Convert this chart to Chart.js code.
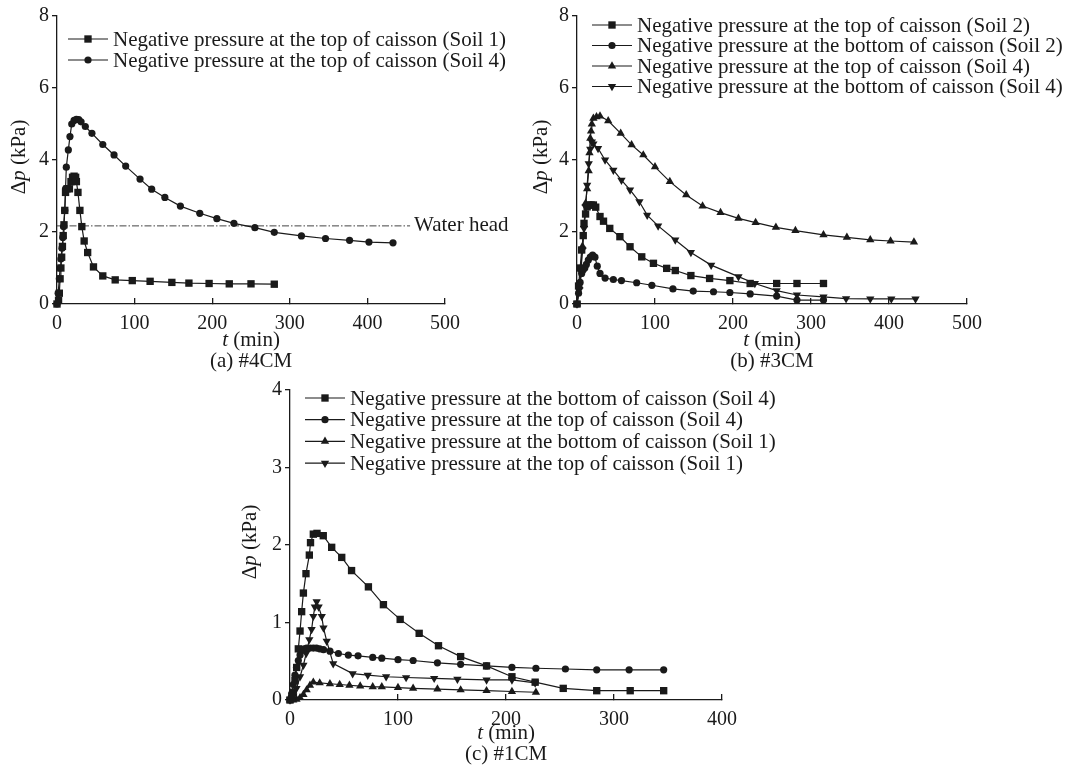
<!DOCTYPE html>
<html>
<head>
<meta charset="utf-8">
<script src="https://cdn.jsdelivr.net/npm/chart.js@4/dist/chart.umd.min.js"></script>
<style>
  body { margin: 0; background: #fff; }
  .box { position: absolute; }
</style>
</head>
<body>
<div class="box" style="left:0px;top:0px"><canvas id="chartA" width="530" height="375"></canvas></div>
<div class="box" style="left:530px;top:0px"><canvas id="chartB" width="539" height="375"></canvas></div>
<div class="box" style="left:230px;top:375px"><canvas id="chartC" width="560" height="396"></canvas></div>
<script>
//(a) #4CM
let tA1 = [0, 2, 3, 4, 5, 6, 7, 8, 9, 10, 11, 13, 16, 18, 20, 22, 24, 25, 27, 29.5, 32, 35, 39.5, 47, 59, 75, 97, 120, 148, 170, 196, 222, 250, 280]
let pA1 = [0, 0.1, 0.3, 0.7, 1.0, 1.3, 1.6, 1.9, 2.2, 2.6, 3.1, 3.2, 3.2, 3.4, 3.52, 3.55, 3.52, 3.4, 3.1, 2.6, 2.15, 1.75, 1.43, 1.03, 0.78, 0.67, 0.65, 0.63, 0.6, 0.58, 0.57, 0.56, 0.56, 0.55]
let tA4 = [0, 1.5, 3, 4, 5, 6.5, 7.5, 8.5, 10, 11, 12, 14.6, 16.7, 19, 22, 25, 28, 31, 36.5, 45, 59, 73.5, 88.5, 107, 122, 139, 159, 184, 206, 228, 255, 280, 315, 346, 377, 402, 433]
let pA4 = [0, 0.3, 0.7, 1.0, 1.25, 1.55, 1.85, 2.15, 2.6, 3.2, 3.8, 4.28, 4.65, 5.0, 5.1, 5.13, 5.12, 5.06, 4.93, 4.74, 4.43, 4.14, 3.83, 3.47, 3.19, 2.96, 2.72, 2.52, 2.37, 2.24, 2.12, 1.99, 1.89, 1.82, 1.77, 1.72, 1.70]
let waterHeadT = [0, 455]
let waterHead = 2.17

//(b) #3CM
let tB2top = [0, 2, 4, 6, 8, 9, 11, 13, 15, 18, 21, 24, 29.5, 34, 42, 55, 68, 83, 98, 115, 126, 146, 170, 196, 222, 256, 282, 316]
let pB2top = [0, 0.5, 1.0, 1.5, 1.9, 2.24, 2.5, 2.7, 2.75, 2.75, 2.75, 2.69, 2.43, 2.3, 2.1, 1.87, 1.59, 1.31, 1.13, 0.99, 0.93, 0.79, 0.71, 0.65, 0.57, 0.57, 0.57, 0.57]
let tB2bot = [0, 2, 4, 6, 8, 10, 12, 14.5, 17, 20, 23, 26, 29.5, 36, 46.6, 57, 76.5, 96, 123, 149, 175, 196, 222, 256, 282, 316]
let pB2bot = [0, 0.3, 0.6, 0.85, 0.95, 1.0, 1.1, 1.22, 1.3, 1.36, 1.3, 1.05, 0.85, 0.72, 0.68, 0.65, 0.59, 0.52, 0.42, 0.36, 0.34, 0.32, 0.28, 0.22, 0.11, 0.11]
let tB4top = [0, 3, 5, 7, 9, 11, 13, 15, 16, 17, 18, 19, 21, 25, 29.5, 40, 56, 70, 85, 100, 119, 140, 161, 184, 207, 229, 255, 280, 316, 346, 376, 402, 432]
let pB4top = [0, 0.5, 1.0, 1.6, 2.2, 2.8, 3.2, 3.7, 4.2, 4.6, 4.8, 5.0, 5.16, 5.2, 5.22, 5.09, 4.74, 4.42, 4.14, 3.81, 3.4, 3.03, 2.72, 2.54, 2.38, 2.26, 2.13, 2.04, 1.92, 1.85, 1.78, 1.75, 1.72]
let tB4bot = [0, 3, 5, 7, 9, 11, 13, 15, 17, 19, 21, 27, 36, 46.6, 57, 68, 80, 90, 104, 126, 146, 172, 207, 228, 256, 282, 316, 345, 376, 403, 434]
let pB4bot = [0, 0.4, 0.9, 1.5, 2.1, 2.7, 3.3, 3.9, 4.3, 4.5, 4.45, 4.32, 4.0, 3.72, 3.44, 3.17, 2.84, 2.47, 2.17, 1.78, 1.43, 1.08, 0.76, 0.57, 0.37, 0.25, 0.2, 0.15, 0.14, 0.14, 0.14]

//(c) #1CM
let tC4bot = [0, 1.5, 3, 4.6, 6.2, 7.7, 9.3, 10.8, 12.4, 14.8, 17.9, 19, 21.6, 25, 30.8, 38.6, 47.9, 57, 72.6, 86.5, 102, 119.6, 137.5, 158, 182, 205.5, 227, 253, 284, 315, 346]
let pC4bot = [0, 0.02, 0.1, 0.25, 0.42, 0.66, 0.89, 1.14, 1.38, 1.63, 1.87, 2.03, 2.14, 2.15, 2.12, 1.97, 1.84, 1.67, 1.46, 1.23, 1.04, 0.86, 0.7, 0.56, 0.44, 0.3, 0.23, 0.15, 0.12, 0.12, 0.12]
let tC4top = [0, 1.5, 3, 4.6, 6, 7.7, 9.3, 10.8, 13, 15.4, 18.5, 21.6, 24.5, 27.5, 31, 37, 44.8, 54, 63, 76.6, 85, 100, 114, 136.5, 158, 182, 205.5, 227.7, 255, 284, 314, 346]
let pC4top = [0, 0.08, 0.2, 0.32, 0.42, 0.51, 0.58, 0.64, 0.66, 0.67, 0.67, 0.67, 0.67, 0.66, 0.65, 0.63, 0.6, 0.58, 0.57, 0.55, 0.54, 0.52, 0.51, 0.48, 0.46, 0.44, 0.42, 0.41, 0.4, 0.39, 0.39, 0.39]
let tC1bot = [0, 3, 6, 9.3, 12.4, 15.4, 18.5, 21.6, 27.5, 37, 46, 55, 65, 76.6, 85, 100, 114, 136.5, 158, 182, 205.5, 227.7]
let pC1bot = [0, 0, 0.01, 0.03, 0.07, 0.13, 0.19, 0.23, 0.22, 0.21, 0.2, 0.19, 0.18, 0.17, 0.17, 0.16, 0.15, 0.14, 0.13, 0.12, 0.11, 0.1]
let tC1top = [0, 3, 6, 9.3, 12.4, 15, 17.9, 20, 21.6, 23, 24.7, 26.5, 29.4, 31, 34, 40, 58, 72, 89, 107.5, 133.5, 155, 182, 205.5, 227]
let pC1top = [0, 0.05, 0.15, 0.3, 0.45, 0.6, 0.78, 0.91, 1.08, 1.2, 1.27, 1.2, 1.08, 0.93, 0.76, 0.47, 0.34, 0.32, 0.3, 0.29, 0.28, 0.27, 0.26, 0.26, 0.22]

const serif = "'Liberation Serif', 'Times New Roman', serif"
const ink = '#1a1a1a'

function pts(t, p) {
	return t.map((v, i) => ({ x: v, y: p[i] }))
}

//one line series, all black, only the marker changes
function series(label, t, p, style) {
	let shape = style == 'down' ? 'triangle' : style
	let size = { rect: 5.2, circle: 3.6, triangle: 4.8 }[shape]
	return {
		label: label,
		data: pts(t, p),
		borderColor: ink,
		borderWidth: 1.2,
		backgroundColor: ink,
		pointStyle: shape,
		pointRotation: style == 'down' ? 180 : 0,
		pointRadius: size,
		pointBorderWidth: 0,
		pointBackgroundColor: ink,
		tension: 0,
		clip: false
	}
}

//draws a text made of plain and italic parts
function drawMixed(ctx, parts, x, y, rotate) {
	ctx.save()
	ctx.translate(x, y)
	if (rotate) ctx.rotate(-Math.PI / 2)
	ctx.textBaseline = 'middle'
	ctx.textAlign = 'left'
	let widths = parts.map((part) => {
		ctx.font = (part[1] ? 'italic ' : '') + '21px ' + serif
		return ctx.measureText(part[0]).width
	})
	let total = widths.reduce((a, b) => a + b, 0)
	let cx = -total / 2
	parts.forEach((part, i) => {
		ctx.font = (part[1] ? 'italic ' : '') + '21px ' + serif
		ctx.fillStyle = ink
		ctx.fillText(part[0], cx, 0)
		cx += widths[i]
	})
	ctx.restore()
}

function drawMarker(ctx, shape, rot, x, y, r) {
	ctx.save()
	ctx.fillStyle = ink
	ctx.translate(x, y)
	ctx.rotate(rot * Math.PI / 180)
	ctx.beginPath()
	if (shape == 'rect') {
		let s = r * Math.SQRT1_2
		ctx.rect(-s, -s, 2 * s, 2 * s)
	} else if (shape == 'circle') {
		ctx.arc(0, 0, r, 0, Math.PI * 2)
	} else {
		ctx.moveTo(0, -r)
		ctx.lineTo(r * 0.866, r * 0.5)
		ctx.lineTo(-r * 0.866, r * 0.5)
		ctx.closePath()
	}
	ctx.fill()
	ctx.restore()
}

//legend + axis titles + caption, drawn by hand so they can sit inside the plot
let decorations = {
	id: 'decorations',
	afterDraw(chart, args, opts) {
		let ctx = chart.ctx
		let lg = opts.legend
		chart.data.datasets.forEach((ds, i) => {
			if (!ds.pointRadius) return
			let y = lg.y + i * lg.gap
			ctx.save()
			ctx.strokeStyle = ink
			ctx.lineWidth = 1.2
			ctx.beginPath()
			ctx.moveTo(lg.x, y)
			ctx.lineTo(lg.x + 40, y)
			ctx.stroke()
			ctx.restore()
			drawMarker(ctx, ds.pointStyle, ds.pointRotation, lg.x + 20, y, ds.pointRadius)
			ctx.save()
			ctx.font = '21px ' + serif
			ctx.fillStyle = ink
			ctx.textBaseline = 'middle'
			ctx.fillText(ds.label, lg.x + 45, y + 1)
			ctx.restore()
		})
		let area = chart.chartArea
		let cx = (area.left + area.right) / 2
		drawMixed(ctx, [['t', true], [' (min)', false]], cx, area.bottom + opts.xTitle, false)
		drawMixed(ctx, [[opts.caption, false]], cx, area.bottom + opts.xTitle + 21, false)
		drawMixed(ctx, [['\u0394', false], ['p', true], [' (kPa)', false]], opts.yTitle, (area.top + area.bottom) / 2 - 3, true)
		if (opts.waterHead) {
			let meta = chart.getDatasetMeta(opts.waterHead)
			let last = meta.data[meta.data.length - 1]
			ctx.save()
			ctx.font = '21px ' + serif
			ctx.fillStyle = ink
			ctx.textBaseline = 'middle'
			ctx.fillText('Water head', last.x + 4, last.y)
			ctx.restore()
		}
	}
}

function axes(xMax, yMax, yStep, yWidth, xHeight) {
	return {
		x: {
			type: 'linear',
			min: 0,
			max: xMax,
			border: { color: ink, width: 1.3 },
			grid: { drawOnChartArea: false, drawTicks: true, tickLength: -6, color: ink, lineWidth: 1.3 },
			ticks: { stepSize: 100, padding: 14, color: ink, font: { family: serif, size: 20 } },
			afterFit: (scale) => { scale.height = xHeight }
		},
		y: {
			min: 0,
			max: yMax,
			border: { color: ink, width: 1.3 },
			grid: { drawOnChartArea: false, drawTicks: true, tickLength: 5, color: ink, lineWidth: 1.3 },
			ticks: { stepSize: yStep, padding: 3, color: ink, font: { family: serif, size: 20 } },
			afterFit: (scale) => { scale.width = yWidth }
		}
	}
}

function baseOptions(pad, scales, deco) {
	return {
		responsive: false,
		animation: false,
		layout: { padding: pad },
		plugins: {
			legend: { display: false },
			tooltip: { enabled: false },
			decorations: deco
		},
		scales: scales
	}
}

let waterLine = {
	label: 'Water head',
	data: waterHeadT.map((t) => ({ x: t, y: waterHead })),
	borderColor: '#444',
	borderWidth: 1,
	borderDash: [7, 2, 1.5, 2],
	pointRadius: 0,
	clip: false
}

new Chart(document.getElementById('chartA').getContext('2d'), {
	type: 'line',
	data: {
		datasets: [
			series('Negative pressure at the top of caisson (Soil 1)', tA1, pA1, 'rect'),
			series('Negative pressure at the top of caisson (Soil 4)', tA4, pA4, 'circle'),
			waterLine
		]
	},
	options: baseOptions({ top: 16, right: 85, left: 0, bottom: 0 }, axes(500, 8, 2, 57, 71), {
		legend: { x: 68, y: 39, gap: 21 },
		xTitle: 36,
		caption: '(a) #4CM',
		yTitle: 19,
		waterHead: 2
	}),
	plugins: [decorations]
})

new Chart(document.getElementById('chartB').getContext('2d'), {
	type: 'line',
	data: {
		datasets: [
			series('Negative pressure at the top of caisson (Soil 2)', tB2top, pB2top, 'rect'),
			series('Negative pressure at the bottom of caisson (Soil 2)', tB2bot, pB2bot, 'circle'),
			series('Negative pressure at the top of caisson (Soil 4)', tB4top, pB4top, 'triangle'),
			series('Negative pressure at the bottom of caisson (Soil 4)', tB4bot, pB4bot, 'down')
		]
	},
	options: baseOptions({ top: 16, right: 102, left: 0, bottom: 0 }, axes(500, 8, 2, 47, 71), {
		legend: { x: 62, y: 25, gap: 20.5 },
		xTitle: 36,
		caption: '(b) #3CM',
		yTitle: 11
	}),
	plugins: [decorations]
})

new Chart(document.getElementById('chartC').getContext('2d'), {
	type: 'line',
	data: {
		datasets: [
			series('Negative pressure at the bottom of caisson (Soil 4)', tC4bot, pC4bot, 'rect'),
			series('Negative pressure at the top of caisson (Soil 4)', tC4top, pC4top, 'circle'),
			series('Negative pressure at the bottom of caisson (Soil 1)', tC1bot, pC1bot, 'triangle'),
			series('Negative pressure at the top of caisson (Soil 1)', tC1top, pC1top, 'down')
		]
	},
	options: baseOptions({ top: 10, right: 68, left: 0, bottom: 0 }, axes(400, 4, 1, 60, 71), {
		legend: { x: 75, y: 23, gap: 21.7 },
		xTitle: 33,
		caption: '(c) #1CM',
		yTitle: 20
	}),
	plugins: [decorations]
})
</script>
</body>
</html>
